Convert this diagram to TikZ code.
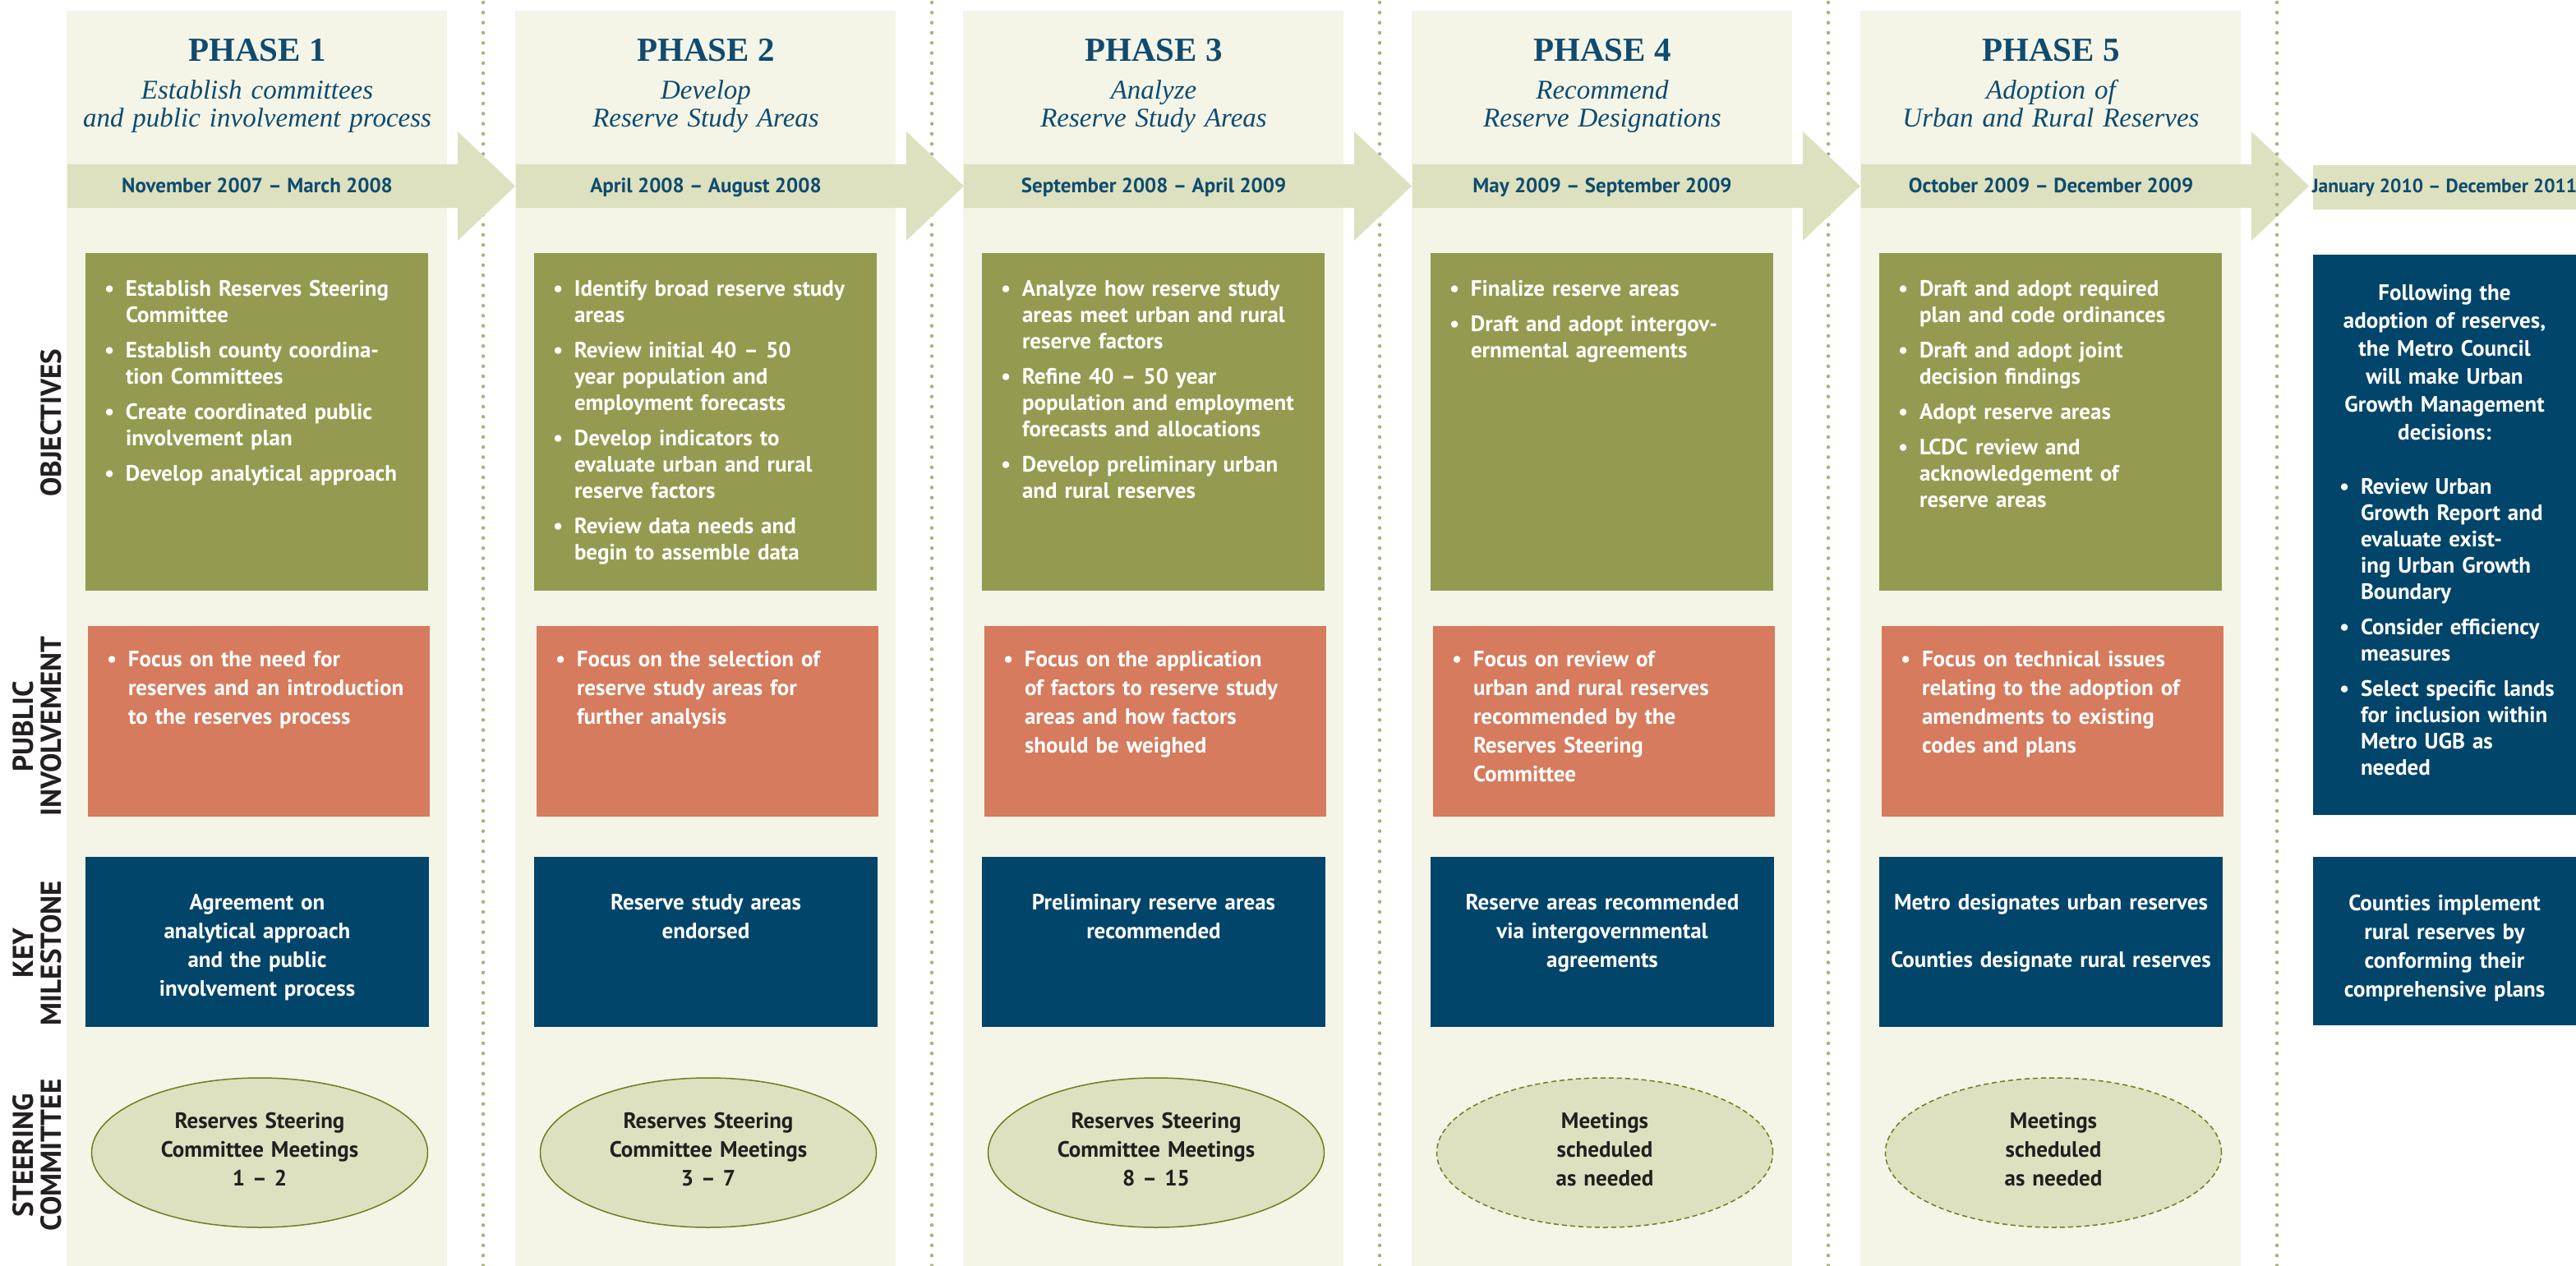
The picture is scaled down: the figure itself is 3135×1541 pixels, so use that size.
\documentclass[tikz,border=0pt]{standalone}
\usepackage{fontspec}
\setmainfont{PT Sans}
\newfontfamily\titlefont{Liberation Serif}
\usetikzlibrary{shapes.geometric}
\definecolor{panelbg}{HTML}{F4F5E7}
\definecolor{bandc}{HTML}{DDE1BF}
\definecolor{oliveb}{HTML}{949B50}
\definecolor{orangeb}{HTML}{D67B5D}
\definecolor{navyb}{HTML}{02456A}
\definecolor{ellfill}{HTML}{DEE1BF}
\definecolor{ellline}{HTML}{6F7D1F}
\definecolor{dotc}{HTML}{AAB37C}
\definecolor{titleblue}{HTML}{0F4B6F}
\definecolor{labelc}{HTML}{231F20}
\newlength\bw \setlength\bw{26pt}
\newcommand\bi[1]{\hangindent=\bw\hangafter=1\noindent\makebox[\bw][l]{•}#1\par}
\newcommand\fA{\bfseries\fontsize{27}{32}\selectfont}
\newcommand\fB{\bfseries\fontsize{27}{35}\selectfont}
\begin{document}
\begin{tikzpicture}[x=1pt,y=-1pt,
  dashed/.style={dash pattern=on 6pt off 4pt},
  dotline/.style={dotc, line width=4.5pt, line cap=round, dash pattern=on 0pt off 12.3pt},
  objtext/.style={anchor=base west, inner sep=0pt, outer sep=0pt, text width=390pt, align=left, text=white, font=\fA, execute at begin node={\setlength\parskip{11pt}}},
  pitext/.style={objtext, font=\fB},
  kmtext/.style={anchor=base, inner sep=0pt, text width=420pt, align=center, text=white, font=\fB},
  scell/.style={ellipse, draw=ellline, line width=1.5pt, fill=ellfill, minimum width=409pt, minimum height=182pt, inner sep=0pt},
  sctext/.style={anchor=base, inner sep=0pt, text width=400pt, align=center, text=labelc, font=\fB},
  phasetitle/.style={anchor=base, inner sep=0pt, text=titleblue, font=\titlefont\bfseries\fontsize{41}{41}\selectfont},
  phasesub/.style={anchor=base, inner sep=0pt, text width=470pt, align=center, text=titleblue, font=\titlefont\itshape\fontsize{33}{34}\selectfont},
  datet/.style={anchor=base, inner sep=0pt, text=titleblue, font=\bfseries\fontsize{25}{30}\selectfont},
  rowlab/.style={rotate=90, align=center, inner sep=0pt, text=labelc, font=\bfseries\fontsize{35}{34}\selectfont},
  lasthead/.style={anchor=base, inner sep=0pt, text width=320pt, align=center, text=white, font=\bfseries\fontsize{27}{34}\selectfont}
]
\useasboundingbox (0,0) rectangle (3135,1541);
\fill[white] (0,0) rectangle (3135,1541);

% phase panels and boxes
\foreach \L in {81,627,1172,1718,2264}{
  \fill[panelbg] (\L,13) rectangle (\L+463,1541);
  \fill[oliveb] (\L+23,308) rectangle (\L+440,719);
  \fill[orangeb] (\L+26,762) rectangle (\L+442,994);
  \fill[navyb] (\L+23,1043) rectangle (\L+441,1250);
}
% dotted separators (under the arrows)
\foreach \L in {81,627,1172,1718}{
  \draw[dotline] (\L+507,3) -- (\L+507,1541);
}
% timeline arrows
\foreach \L in {81,627,1172,1718,2264}{
  \fill[bandc] (\L+1,200) -- (\L+476,200) -- (\L+476,160) -- (\L+546,226.5)
     -- (\L+476,293) -- (\L+476,253) -- (\L+1,253) -- cycle;
}
\draw[dotline] (2771,3) -- (2771,1541);

% last column
\fill[bandc] (2815,201) rectangle (3135,255);
\fill[navyb] (2815,310) rectangle (3135,992);
\fill[navyb] (2815,1043) rectangle (3135,1248);

% steering committee ellipses
\foreach \n/\L/\s in {1/81/solid,2/627/solid,3/1172/solid,4/1718/dashed,5/2264/dashed}{
  \node[scell,\s] (ell\n) at (\L+235,1403) {};
}

% row labels
\node[rowlab] (lobj) at (62,515) {OBJECTIVES};
\node[rowlab] (lpi) at (45.5,884) {PUBLIC\\INVOLVEMENT};
\node[rowlab] (lkm) at (45.5,1160) {KEY\\MILESTONE};
\node[rowlab] (lsc) at (45.5,1406) {STEERING\\COMMITTEE};

% titles
\node[phasetitle] (t1) at (313,75) {PHASE 1};
\node[phasetitle] (t2) at (859,75) {PHASE 2};
\node[phasetitle] (t3) at (1404,75) {PHASE 3};
\node[phasetitle] (t4) at (1950,75) {PHASE 4};
\node[phasetitle] (t5) at (2496,75) {PHASE 5};
\node[phasesub] (s1) at (313,121) {Establish committees\\and public involvement process};
\node[phasesub] (s2) at (859,121) {Develop\\Reserve Study Areas};
\node[phasesub] (s3) at (1404,121) {Analyze\\Reserve Study Areas};
\node[phasesub] (s4) at (1950,121) {Recommend\\Reserve Designations};
\node[phasesub] (s5) at (2496,121) {Adoption of\\Urban and Rural Reserves};

% dates
\node[datet] (d1) at (313,235) {November 2007 – March 2008};
\node[datet] (d2) at (859,235) {April 2008 – August 2008};
\node[datet] (d3) at (1404,235) {September 2008 – April 2009};
\node[datet] (d4) at (1950,235) {May 2009 – September 2009};
\node[datet] (d5) at (2496,235) {October 2009 – December 2009};
\node[datet, font=\bfseries\fontsize{23.5}{30}\selectfont] (d6) at (2975,235) {January 2010 – December 2011};

% objectives
\node[objtext] (o1) at (127,360) {\bi{Establish Reserves Steering\newline Committee}\bi{Establish county coordina-\newline tion Committees}\bi{Create coordinated public\newline involvement plan}\bi{Develop analytical approach}};
\node[objtext] (o2) at (673,360) {\bi{Identify broad reserve study\newline areas}\bi{Review initial 40 – 50\newline year population and\newline employment forecasts}\bi{Develop indicators to\newline evaluate urban and rural\newline reserve factors}\bi{Review data needs and\newline begin to assemble data}};
\node[objtext] (o3) at (1218,360) {\bi{Analyze how reserve study\newline areas meet urban and rural\newline reserve factors}\bi{Refine 40 – 50 year\newline population and employment\newline forecasts and allocations}\bi{Develop preliminary urban\newline and rural reserves}};
\node[objtext] (o4) at (1764,360) {\bi{Finalize reserve areas}\bi{Draft and adopt intergov-\newline ernmental agreements}};
\node[objtext] (o5) at (2310,360) {\bi{Draft and adopt required\newline plan and code ordinances}\bi{Draft and adopt joint\newline decision findings}\bi{Adopt reserve areas}\bi{LCDC review and\newline acknowledgement of\newline reserve areas}};

% public involvement
\node[pitext] (p1) at (130,811) {\bi{Focus on the need for\newline reserves and an introduction\newline to the reserves process}};
\node[pitext] (p2) at (676,811) {\bi{Focus on the selection of\newline reserve study areas for\newline further analysis}};
\node[pitext] (p3) at (1221,811) {\bi{Focus on the application\newline of factors to reserve study\newline areas and how factors\newline should be weighed}};
\node[pitext] (p4) at (1767,811) {\bi{Focus on review of\newline urban and rural reserves\newline recommended by the\newline Reserves Steering\newline Committee}};
\node[pitext] (p5) at (2313,811) {\bi{Focus on technical issues\newline relating to the adoption of\newline amendments to existing\newline codes and plans}};

% key milestones
\node[kmtext] (k1) at (313,1107) {Agreement on\\analytical approach\\and the public\\involvement process};
\node[kmtext] (k2) at (859,1107) {Reserve study areas\\endorsed};
\node[kmtext] (k3) at (1404,1107) {Preliminary reserve areas\\recommended};
\node[kmtext] (k4) at (1950,1107) {Reserve areas recommended\\via intergovernmental\\agreements};
\node[kmtext] (k5) at (2496,1107) {Metro designates urban reserves\\[35pt]Counties designate rural reserves};
\node[kmtext, text width=320pt] (k6) at (2975,1108) {Counties implement\\rural reserves by\\conforming their\\comprehensive plans};

% steering committee texts
\node[sctext] (e1) at (316,1373) {Reserves Steering\\Committee Meetings\\1 – 2};
\node[sctext] (e2) at (862,1373) {Reserves Steering\\Committee Meetings\\3 – 7};
\node[sctext] (e3) at (1407,1373) {Reserves Steering\\Committee Meetings\\8 – 15};
\node[sctext] (e4) at (1953,1373) {Meetings\\scheduled\\as needed};
\node[sctext] (e5) at (2499,1373) {Meetings\\scheduled\\as needed};

% last column text
\node[lasthead] (h6) at (2975,365) {Following the\\adoption of reserves,\\the Metro Council\\will make Urban\\Growth Management\\decisions:};
\node[objtext] (o6) at (2847,601) {\bi{Review Urban\newline Growth Report and\newline evaluate exist-\newline ing Urban Growth\newline Boundary}\bi{Consider efficiency\newline measures}\bi{Select specific lands\newline for inclusion within\newline Metro UGB as\newline needed}};
\end{tikzpicture}
\end{document}
